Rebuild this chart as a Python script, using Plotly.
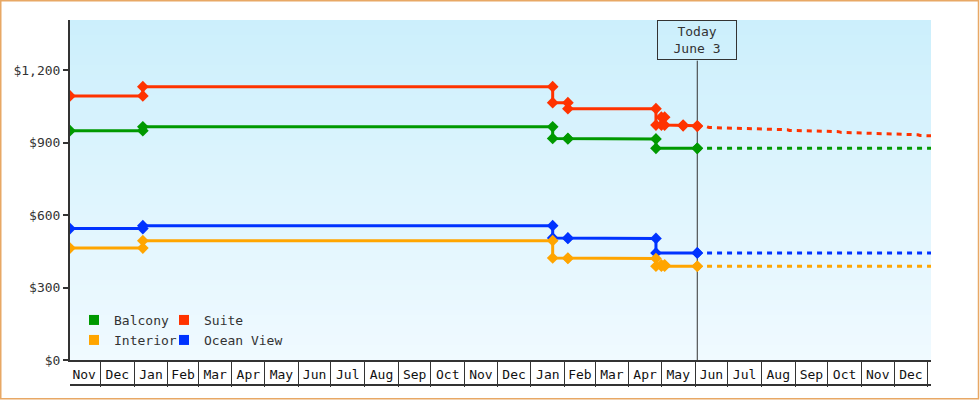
import plotly.graph_objects as go

# ---------------- data ----------------
suite_dates = ["2021-11-03", "2022-01-09", "2023-01-21", "2023-02-04", "2023-04-26",
               "2023-05-01", "2023-05-04", "2023-05-21", "2023-06-03"]
suite_prices = [1093, 1131, 1065, 1040, 972, 1005, 972, 969, 967]

balcony_dates = ["2021-11-03", "2022-01-09", "2023-01-21", "2023-02-04", "2023-04-26", "2023-06-03"]
balcony_prices = [949, 965, 917, 915, 876, 876]

ocean_dates = ["2021-11-03", "2022-01-09", "2023-01-21", "2023-02-04", "2023-04-26", "2023-06-03"]
ocean_prices = [544, 556, 505, 503, 443, 443]

interior_dates = ["2021-11-03", "2022-01-09", "2023-01-21", "2023-02-04", "2023-04-26",
                  "2023-05-01", "2023-05-04", "2023-06-03"]
interior_prices = [463, 494, 422, 420, 388, 394, 388, 388]

# forecasts (dashed)
suite_fc_dates = ["2023-06-12", "2023-06-14", "2023-08-25", "2023-08-27", "2023-10-11",
                  "2023-10-13", "2023-12-23", "2023-12-25", "2024-01-04"]
suite_fc_prices = [965, 962, 953, 950, 945, 942, 932, 929, 928]
balcony_fc_dates = ["2023-06-12", "2024-01-04"]
balcony_fc_prices = [876, 876]
ocean_fc_dates = ["2023-06-12", "2024-01-04"]
ocean_fc_prices = [443, 443]
interior_fc_dates = ["2023-06-12", "2024-01-04"]
interior_fc_prices = [388, 388]

today = "2023-06-03"
today_label = "Today<br>June 3"
x_range = ["2021-11-03", "2024-01-04"]
y_ticks = [0, 300, 600, 900, 1200]
y_tick_text = ["$0", "$300", "$600", "$900", "$1,200"]

# ---------------- styling ----------------
FONT = "DejaVu Sans Mono"
COL = {"Balcony": "#009900", "Suite": "#ff3300", "Interior": "#ffa500", "Ocean View": "#0033ff"}
W, H = 980, 400
ML, MR, MT, MB = 70, 49, 20, 40
PW, PH = W - ML - MR, H - MT - MB


def px_x(p):
    return (p - ML) / PW


def px_y(p):
    return (H - MB - p) / PH


def steps(dates, prices):
    xs, ys = [dates[0]], [prices[0]]
    for i in range(1, len(dates)):
        xs += [dates[i], dates[i]]
        ys += [prices[i - 1], prices[i]]
    return xs, ys


fig = go.Figure()

series = [
    ("Suite", suite_dates, suite_prices, suite_fc_dates, suite_fc_prices),
    ("Balcony", balcony_dates, balcony_prices, balcony_fc_dates, balcony_fc_prices),
    ("Ocean View", ocean_dates, ocean_prices, ocean_fc_dates, ocean_fc_prices),
    ("Interior", interior_dates, interior_prices, interior_fc_dates, interior_fc_prices),
]

for name, d, p, fd, fp in series:
    fig.add_trace(go.Scatter(x=fd, y=fp, mode="lines", showlegend=False,
                             line=dict(color=COL[name], width=3, dash="5px,5px"),
                             hoverinfo="skip"))
for name, d, p, fd, fp in series:
    xs, ys = steps(d, p)
    fig.add_trace(go.Scatter(x=xs, y=ys, mode="lines+markers", showlegend=False, name=name,
                             line=dict(color=COL[name], width=3),
                             marker=dict(symbol="diamond", size=9, color=COL[name])))

# legend entries, one legend per entry for exact placement (2 x 2 grid)
legend_layout = [("Balcony", "legend", 74, 320), ("Suite", "legend2", 164, 320),
                 ("Interior", "legend3", 74, 340), ("Ocean View", "legend4", 164, 340)]
leg_defs = {}
for name, leg, lx, ly in legend_layout:
    fig.add_trace(go.Scatter(x=[None], y=[None], mode="markers", name=name, legend=leg,
                             marker=dict(symbol="square", size=10, color=COL[name])))
    leg_defs[leg] = dict(orientation="h", xanchor="left", yanchor="middle",
                         x=px_x(lx), y=px_y(ly), bgcolor="rgba(0,0,0,0)", borderwidth=0,
                         font=dict(family=FONT, size=13, color="#333333"), itemwidth=30)

shapes = []
# vertical gradient background
N = 68
top = (204, 239, 252)
bot = (240, 250, 255)
for i in range(N):
    t = (i + 0.5) / N
    c = tuple(round(bot[k] + (top[k] - bot[k]) * t) for k in range(3))
    shapes.append(dict(type="rect", xref="paper", yref="paper", x0=0, x1=1,
                       y0=i / N, y1=min(1, (i + 1) / N + 0.002), line=dict(width=0),
                       fillcolor="rgb(%d,%d,%d)" % c, layer="below"))
# today line
shapes.append(dict(type="line", xref="x", yref="paper", x0=today, x1=today,
                   y0=0, y1=px_y(60.7), line=dict(color="#333333", width=1), layer="below"))
# bottom line of month boxes
shapes.append(dict(type="line", xref="paper", yref="paper", x0=0, x1=1,
                   y0=px_y(385), y1=px_y(385), line=dict(color="#333333", width=2)))
# outer border
shapes.append(dict(type="rect", xref="paper", yref="paper",
                   x0=px_x(0.75), x1=px_x(978.5), y0=px_y(398.75), y1=px_y(0.75),
                   line=dict(color="#e8a865", width=1.5), fillcolor="rgba(0,0,0,0)"))

fig.update_layout(
    width=W, height=H,
    margin=dict(l=ML, r=MR, t=MT, b=MB, autoexpand=False),
    paper_bgcolor="white", plot_bgcolor="rgb(240,250,255)",
    shapes=shapes,
    **leg_defs,
    annotations=[dict(x=today, xref="x", y=1, yref="paper", yanchor="top", xanchor="center",
                      text=today_label, showarrow=False, bordercolor="#333333", borderwidth=1,
                      borderpad=2, width=74, height=34, bgcolor="rgba(0,0,0,0)",
                      font=dict(family=FONT, size=13, color="#333333"))],
    xaxis=dict(type="date", range=x_range, dtick="M1", tick0="2021-11-01", tickformat="%b",
               ticklabelmode="period", ticks="outside", ticklen=25, tickwidth=1,
               tickcolor="#333333", showgrid=False, zeroline=False, showline=True,
               linecolor="#333333", linewidth=2, ticklabelstandoff=-24,
               tickfont=dict(family=FONT, size=13, color="#111111"), automargin=False),
    yaxis=dict(range=[0, 1407], tickvals=y_ticks, ticktext=y_tick_text,
               ticks="outside", ticklen=5, tickwidth=2, tickcolor="#333333",
               showgrid=False, zeroline=False, showline=True, linecolor="#333333",
               linewidth=2, tickfont=dict(family=FONT, size=13, color="#333333"),
               automargin=False),
    hovermode="closest",
)

fig.write_html("out.html", config={"displayModeBar": False},
               post_script="document.body.style.margin='0';")
